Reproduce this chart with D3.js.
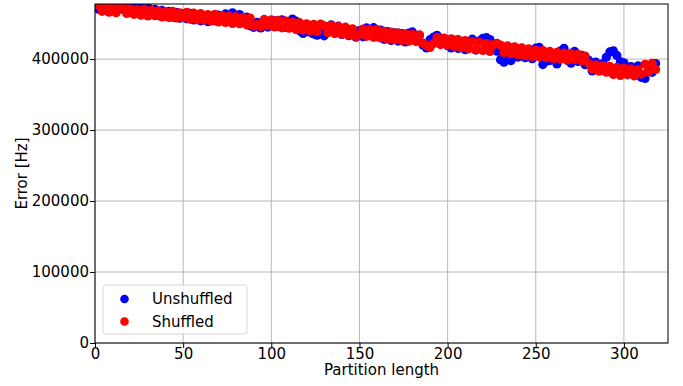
<!DOCTYPE html>
<html>
<head>
<meta charset="utf-8">
<script src="https://cdn.jsdelivr.net/npm/d3@7"></script>
<style>
  body { margin: 0; background: #fff; }
  svg { font-family: 'DejaVu Sans', sans-serif; }
</style>
</head>
<body>
<div id="chart"></div>
<script>
// partition lengths sampled every 2
const partitionLengths = d3.range(2, 320, 2);

const unshuffled = [
  470200, 476100, 468900, 475300, 467800, 474600, 476800, 469900, 477000, 468700,
  475400, 471600, 476200, 466300, 472900, 463700, 470100, 461800, 468600, 460400,
  467100, 459200, 465800, 457600, 464200,
  456900, 464300, 455100, 462800, 453900, 461600, 452700, 460900, 454200, 462100,
  455800, 463600, 461900, 465200, 457400, 462700, 453600, 459100, 446900, 444800,
  451700, 443900, 449800, 445100, 454300,
  453900, 446200, 455100, 444800, 452600, 456300, 453400, 439800, 436100, 446200,
  437900, 435300, 433700, 441200, 432800, 445600, 448100, 436700, 446300, 434600,
  443800, 432900, 441600, 430900, 440200,
  431300, 443900, 436100, 444200, 431400, 440800, 427900, 438600, 426200, 437100,
  425400, 435900, 424100, 436700, 438200, 426300, 433100, 419800, 415600, 427400,
  430900, 433600, 428900, 422600, 418800,
  415600, 426900, 414900, 425100, 413200, 424800, 428100, 412700, 425600, 429300,
  430100, 427600, 418300, 411200, 399100, 395600, 403800, 397900, 410200, 402800,
  414100, 401900, 411700, 400600, 415300,
  416400, 392300, 396800, 397900, 406100, 393200, 411300, 415200, 398100, 394300,
  410800, 396700, 405300, 392100, 398400, 383200, 395900, 383800, 393600, 402600,
  410100, 411700, 405200, 396300, 394800, 383700, 389400, 377600, 390300, 374100,
  372800, 383900, 381300, 393800
];

const shuffled = [
  475600, 467300, 474800, 466100, 472900, 465400, 471800, 474100, 464200, 470900,
  463100, 469800, 461900, 470300, 460800, 468700, 461200, 467900, 459400, 466800,
  458700, 467200, 457900, 465300, 458200,
  465900, 456200, 464700, 455300, 463900, 454800, 462600, 453700, 462900, 452400,
  461300, 451600, 460800, 450300, 459700, 449900, 458600, 448200, 457900, 446700,
  449100, 445800, 455900, 446900, 455200,
  445300, 454600, 444100, 453800, 443600, 452200, 441700, 451300, 440900, 449600,
  439800, 448900, 438600, 449300, 446800, 437100, 447400, 435900, 445600, 435200,
  444900, 433800, 442700, 431900, 434300,
  442300, 432100, 441800, 430600, 441600, 429900, 439100, 428400, 437900, 427300,
  436800, 426100, 435700, 425200, 434800, 424700, 434100, 422600, 418900, 416300,
  421900, 430600, 420400, 429700, 419800,
  428600, 417900, 427400, 416200, 425900, 414700, 424800, 413300, 423600, 412100,
  421900, 410800, 420300, 422100, 419700, 409200, 418800, 407600, 417200, 406100,
  415900, 404900, 414300, 403800, 412600,
  403200, 412100, 401900, 410800, 400400, 409600, 399800, 408300, 398600, 407900,
  399200, 406700, 397800, 404300, 393600, 385700, 391800, 382900, 390900, 381600,
  389700, 378400, 388200, 376900, 387400, 377800, 386100, 376300, 385200, 378900,
  392600, 381700, 394100, 385300
];

const xTicks = [0, 50, 100, 150, 200, 250, 300];
const yTicks = [0, 100000, 200000, 300000, 400000];
const seriesNames = ['Unshuffled', 'Shuffled'];
const seriesColors = ['#0000ff', '#ff0000'];

const W = 683, H = 386;
const margin = {left: 95, right: 15, top: 4, bottom: 43};

const svg = d3.select('#chart').append('svg')
  .attr('width', W)
  .attr('height', H);

const x = d3.scaleLinear().domain([0, 325]).range([margin.left, W - margin.right]);
const y = d3.scaleLinear().domain([0, 477600]).range([H - margin.bottom, margin.top]);

// grid
svg.append('g').selectAll('line.vg')
  .data(xTicks).enter().append('line')
  .attr('x1', d => x(d)).attr('x2', d => x(d))
  .attr('y1', y.range()[0]).attr('y2', y.range()[1])
  .style('stroke', '#b0b0b0').style('stroke-width', '0.9px');
svg.append('g').selectAll('line.hg')
  .data(yTicks).enter().append('line')
  .attr('x1', x.range()[0]).attr('x2', x.range()[1])
  .attr('y1', d => y(d)).attr('y2', d => y(d))
  .style('stroke', '#b0b0b0').style('stroke-width', '0.9px');

// points, clipped to the axes box
svg.append('defs').append('clipPath').attr('id', 'plot')
  .append('rect')
  .attr('x', margin.left).attr('y', margin.top)
  .attr('width', W - margin.left - margin.right)
  .attr('height', H - margin.top - margin.bottom);

const pts = svg.append('g').attr('clip-path', 'url(#plot)');
[unshuffled, shuffled].forEach((vals, i) => {
  pts.append('g').selectAll('circle')
    .data(vals).enter().append('circle')
    .attr('cx', (d, j) => x(partitionLengths[j]))
    .attr('cy', d => y(d))
    .attr('r', 4.6)
    .style('fill', seriesColors[i]);
});

// axes
const xAxis = svg.append('g')
  .attr('transform', 'translate(0,' + (H - margin.bottom) + ')')
  .call(d3.axisBottom(x).tickValues(xTicks).tickSize(5).tickPadding(0));
const yAxis = svg.append('g')
  .attr('transform', 'translate(' + margin.left + ',0)')
  .call(d3.axisLeft(y).tickValues(yTicks).tickFormat(d3.format('d')).tickSize(5).tickPadding(1));

[xAxis, yAxis].forEach(a => {
  a.select('.domain').remove();
  a.selectAll('text').style('font-size', '15px').style('fill', '#000')
    .style('font-family', "'DejaVu Sans', sans-serif");
  a.selectAll('line').style('stroke', '#000');
});

// frame
svg.append('rect')
  .attr('x', margin.left).attr('y', margin.top)
  .attr('width', W - margin.left - margin.right)
  .attr('height', H - margin.top - margin.bottom)
  .style('fill', 'none').style('stroke', '#000').style('stroke-width', '1px');

// labels
svg.append('text')
  .attr('x', (x.range()[0] + x.range()[1]) / 2)
  .attr('y', 375)
  .attr('text-anchor', 'middle')
  .style('font-size', '15px')
  .text('Partition length');

svg.append('text')
  .attr('transform', 'translate(27,' + (margin.top + (H - margin.bottom - margin.top) / 2) + ') rotate(-90)')
  .attr('text-anchor', 'middle')
  .style('font-size', '15px')
  .text('Error [Hz]');

// legend
const lg = svg.append('g');
lg.append('rect')
  .attr('x', 103).attr('y', 285)
  .attr('width', 144).attr('height', 49)
  .attr('rx', 3)
  .style('fill', 'rgba(255,255,255,0.8)')
  .style('stroke', '#d6d6d6');
seriesNames.forEach((name, i) => {
  lg.append('circle')
    .attr('cx', 124.5).attr('cy', 299 + i * 22.5)
    .attr('r', 4.3)
    .style('fill', seriesColors[i]);
  lg.append('text')
    .attr('x', 152).attr('y', 299 + i * 22.5)
    .attr('dominant-baseline', 'central')
    .style('font-size', '15px')
    .text(name);
});
</script>
</body>
</html>
